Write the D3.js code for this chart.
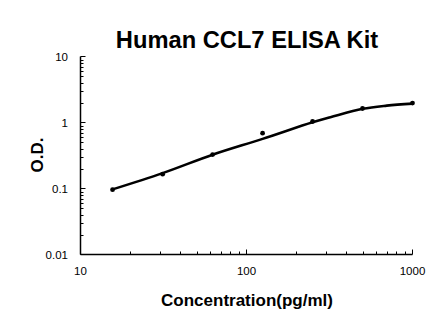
<!DOCTYPE html>
<html><head><meta charset="utf-8">
<script src="https://cdn.jsdelivr.net/npm/d3@7"></script>
<style>body{margin:0;background:#fff}svg{display:block}text{font-family:"Liberation Sans",Arial,sans-serif}</style>
</head><body><svg id="c" width="446" height="326"></svg>
<script>
const concentrations = [15.6, 31.25, 62.5, 125, 250, 500, 1000];
const odValues = [0.096, 0.165, 0.327, 0.69, 1.035, 1.63, 1.97];
const fitConcentrations = [15.6, 31.25, 62.5, 125, 250, 320, 500, 700, 1000];
const fitValues = [0.097, 0.171, 0.325, 0.565, 1.01, 1.2, 1.61, 1.8, 1.93];
const xTickLabels = ["10", "100", "1000"];
const yTickLabels = ["0.01", "0.1", "1", "10"];

const svg = d3.select("#c");
const x = d3.scaleLog().domain([10, 1000]).range([80.5, 412.5]);
const y = d3.scaleLog().domain([0.01, 10]).range([254.5, 56.5]);

const xMinor = [], yMinor = [];
[10, 100].forEach(d => { for (let k = 2; k <= 9; k++) xMinor.push(d * k); });
[0.01, 0.1, 1].forEach(d => { for (let k = 2; k <= 9; k++) yMinor.push(d * k); });

const g = svg.append("g");
g.selectAll(".xm").data(xMinor).enter().append("line")
  .attr("x1", d => Math.round(x(d)) + 0.5).attr("x2", d => Math.round(x(d)) + 0.5)
  .attr("y1", y(0.01)).attr("y2", y(0.01) - 3).attr("stroke", "#000");
g.selectAll(".ym").data(yMinor).enter().append("line")
  .attr("y1", d => Math.round(y(d)) + 0.5).attr("y2", d => Math.round(y(d)) + 0.5)
  .attr("x1", x(10)).attr("x2", x(10) + 3).attr("stroke", "#000");
g.selectAll(".xM").data(xTickLabels).enter().append("line")
  .attr("x1", d => x(+d)).attr("x2", d => x(+d))
  .attr("y1", y(0.01)).attr("y2", y(0.01) - 5).attr("stroke", "#000");
g.selectAll(".yM").data(yTickLabels).enter().append("line")
  .attr("y1", d => y(+d)).attr("y2", d => y(+d))
  .attr("x1", x(10)).attr("x2", x(10) + 5).attr("stroke", "#000");

g.append("line").attr("x1", x(10)).attr("x2", x(10)).attr("y1", y(10)).attr("y2", y(0.01)).attr("stroke", "#000").attr("stroke-width", 1.5);
g.append("line").attr("x1", x(10)).attr("x2", x(1000)).attr("y1", y(0.01)).attr("y2", y(0.01)).attr("stroke", "#000").attr("stroke-width", 1.5);

g.selectAll(".xl").data(xTickLabels).enter().append("text")
  .attr("x", d => x(+d)).attr("y", 275).attr("text-anchor", "middle")
  .attr("font-size", 11.5).text(d => d);
g.selectAll(".yl").data(yTickLabels).enter().append("text")
  .attr("x", 68).attr("y", d => y(+d) + 4).attr("text-anchor", "end")
  .attr("font-size", 11.5).text(d => d);

const fit = fitConcentrations.map((c, i) => [c, fitValues[i]]);
g.append("path").datum(fit)
  .attr("d", d3.line().x(d => x(d[0])).y(d => y(d[1])).curve(d3.curveCatmullRom.alpha(0.5)))
  .attr("fill", "none").attr("stroke", "#000").attr("stroke-width", 2.6).attr("stroke-linecap", "round");

g.selectAll(".pt").data(concentrations).enter().append("circle")
  .attr("cx", d => x(d)).attr("cy", (d, i) => y(odValues[i])).attr("r", 2.4).attr("fill", "#000");

svg.append("text").attr("x", 247).attr("y", 48).attr("text-anchor", "middle")
  .attr("font-size", 23.7).attr("font-weight", "bold").text("Human CCL7 ELISA Kit");
svg.append("text").attr("x", 247).attr("y", 306).attr("text-anchor", "middle")
  .attr("font-size", 17).attr("font-weight", "bold").text("Concentration(pg/ml)");
svg.append("text").attr("transform", "translate(43,155) rotate(-90)").attr("text-anchor", "middle")
  .attr("font-size", 17).attr("font-weight", "bold").text("O.D.");
</script></body></html>
